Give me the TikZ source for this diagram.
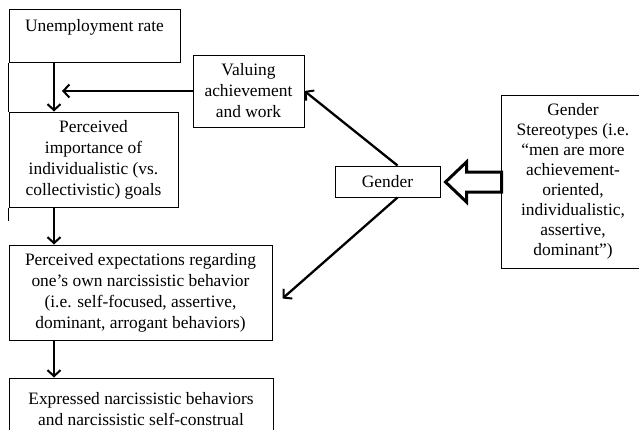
\documentclass[tikz,border=0pt]{standalone}
\usepackage{fontspec}
\setmainfont{Liberation Serif}
\usetikzlibrary{arrows.meta,calc}

\begin{document}
\begin{tikzpicture}[x=1pt,y=-1pt,
  box/.style={draw,line width=1pt,align=center,inner sep=0pt,
    font=\fontsize{17.4}{21}\selectfont},
  link/.style={line width=2.3pt,-{Straight Barb[length=6pt,width=13pt,line width=2pt]}}]

\useasboundingbox (0,0) rectangle (639,429);

\coordinate (spine) at (54,0);

\node (unemp) at (94.5,35.5) [box,minimum width=171,minimum height=53]{Unemployment rate\\ \mbox{}};
\node (imp) at (93.5,159.5) [box,minimum width=169,minimum height=95]{Perceived\\importance of\\individualistic (vs.\\collectivistic) goals};
\node (val) at (248.5,91) [box,minimum width=111,minimum height=72]{Valuing\\achievement\\and work};
\node (gender) at (387.5,181.5) [box,minimum width=105,minimum height=31]{Gender};
\node (stereo) at (573,181.5) [box,minimum width=144,minimum height=173,font=\fontsize{17.4}{20}\selectfont]{Gender\\Stereotypes (i.e.\\“men are more\\achievement-\\oriented,\\individualistic,\\assertive,\\dominant”)};
\node (expect) at (140.5,292.5) [box,minimum width=263,minimum height=95]{Perceived expectations regarding\\one’s own narcissistic behavior\\(i.e. self-focused, assertive,\\dominant, arrogant behaviors)};
\node (expr) at (141,409) [box,minimum width=264,minimum height=62]{Expressed narcissistic behaviors\\and narcissistic self-construal};

% left rule
\draw[line width=1pt] (unemp.south west) -- (imp.north west);
\draw[line width=1pt] (imp.south west) -- ++(0,13);

% main chain
\draw[link] (unemp.south -| spine) -- (imp.north -| spine);
\draw[link] (imp.south -| spine) -- (expect.north -| spine);
\draw[link] (expect.south -| spine) -- (expr.north -| spine);
\draw[link] (val.west) -- ($(val.west -| spine)+(8,0)$);

% gender paths
\draw[link] ($(gender.north)+(10,0)$) -- (val.east);
\draw[link] ($(gender.south)+(10,0)$) -- ($(expect.east)+(10,6)$);

% open block arrow
\draw[line width=3pt,line join=miter] ($(gender.east)+(5,0.5)$) -- ++(21,-20) -- ++(0,10)
  -- ++(35,0) -- ++(0,20) -- ++(-35,0) -- ++(0,10) -- cycle;

\end{tikzpicture}
\end{document}
